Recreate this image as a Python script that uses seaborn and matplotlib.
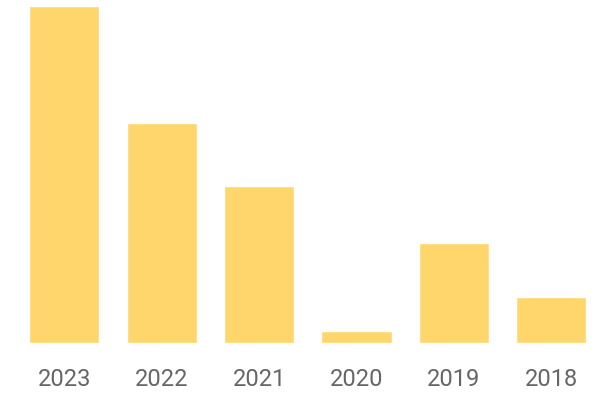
import matplotlib
matplotlib.use('Agg')
import matplotlib.pyplot as plt
import seaborn as sns
import pandas as pd

years = ['2023', '2022', '2021', '2020', '2019', '2018']
values = [33.7, 22.0, 15.7, 1.2, 10.0, 4.6]

df = pd.DataFrame({'year': years, 'value': values})

sns.set_style('white')
plt.rcParams['font.family'] = ['Roboto', 'DejaVu Sans']

fig = plt.figure(figsize=(6, 4), dpi=100)
ax = fig.add_axes([0.026, 0.1425, 0.974, 0.8425])
sns.barplot(data=df, x='year', y='value', color='#FFD66B', saturation=1,
            width=0.72, ax=ax)

ax.set_xlim(-0.5, 5.5)
ax.set_ylim(0, max(values))
ax.set_xlabel('')
ax.set_ylabel('')
ax.set_yticks([])
ax.tick_params(axis='x', length=0, pad=18, labelsize=17, labelcolor='#666666')
sns.despine(ax=ax, left=True, bottom=True)

fig.savefig('out.png', dpi=100)
